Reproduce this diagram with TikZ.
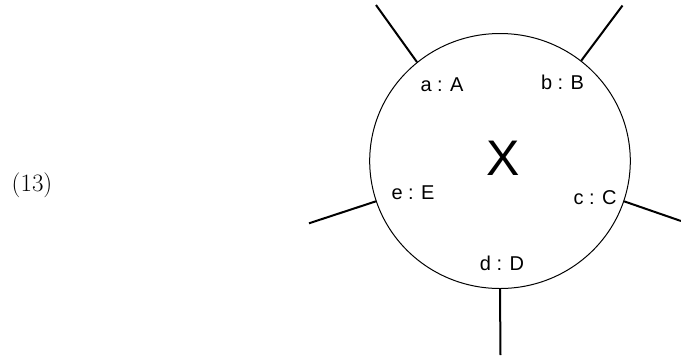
\documentclass[tikz,border=0pt]{standalone}
\usepackage{fontspec}
\setsansfont{Liberation Sans}
\usetikzlibrary{shapes.geometric}

\begin{document}
\begin{tikzpicture}[
  x=1pt, y=-1pt,
  blob/.style={draw,ellipse,line width=1pt,minimum width=260.6pt,
               minimum height=255pt,inner sep=0pt},
  lbl/.style={inner sep=0pt,font=\sffamily\fontsize{20}{24}\selectfont},
  leg/.style={line width=2pt},
]
  \useasboundingbox (0,0) rectangle (681,360);

  % Equation number
  \node[inner sep=0pt,font=\fontsize{25}{30}\selectfont] (eqno) at (32,185) {(13)};

  % Vertex
  \node[blob] (vert) at (500,161) {};
  \node[inner sep=0pt,font=\sffamily\fontsize{50}{60}\selectfont] (name) at (503,158) {X};

  % Leg labels
  \node[lbl] (la) at (442,85) {a : A};
  \node[lbl] (lb) at (562.5,82) {b : B};
  \node[lbl] (lc) at (595,198) {c : C};
  \node[lbl] (ld) at (502,263.5) {d : D};
  \node[lbl] (le) at (413,193) {e : E};

  % Free ends of the legs
  \coordinate (ea) at (376,5);
  \coordinate (eb) at (622.5,5.5);
  \coordinate (ec) at (681,221);
  \coordinate (ed) at (500.5,355);
  \coordinate (ee) at (309,223.3);

  % Legs
  \draw[leg] (vert.130) -- (ea);
  \draw[leg] (vert.51) -- (eb);
  \draw[leg] (vert.342) -- (ec);
  \draw[leg] (vert.270) -- (ed);
  \draw[leg] (vert.198) -- (ee);
\end{tikzpicture}
\end{document}
